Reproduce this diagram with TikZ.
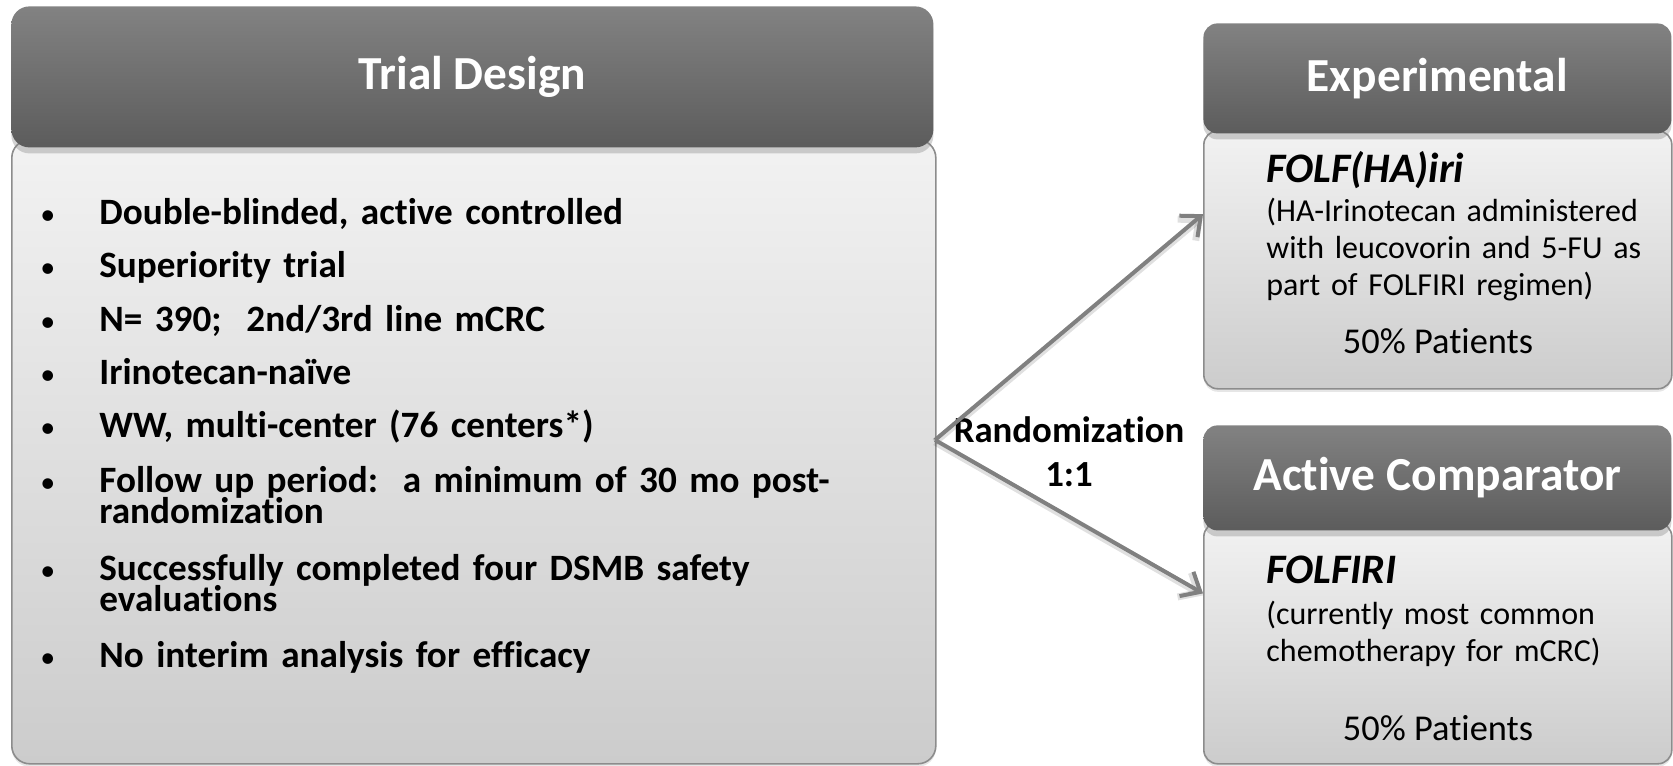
\documentclass[tikz,border=0pt]{standalone}
\usepackage{fontspec}
\setmainfont{Carlito}[Ligatures=NoCommon]
\usepackage{tikz}
\usetikzlibrary{arrows.meta,positioning,shadows}

\definecolor{headtop}{RGB}{130,130,130}
\definecolor{headbot}{RGB}{92,92,92}
\definecolor{bodytop}{RGB}{242,242,242}
\definecolor{bodybot}{RGB}{204,204,204}
\definecolor{rimgray}{RGB}{140,140,140}
\definecolor{armgray}{RGB}{128,128,128}

\newcommand\pointfont{\fontsize{18.6}{15.75}\selectfont\bfseries\lineskiplimit=-20pt\relax}
\newcommand\itemdot{\llap{{\mdseries\fontsize{15}{15}\selectfont\textbullet}\hspace{22pt}}}

\begin{document}
\begin{tikzpicture}[
  x=0.5pt, y=-0.5pt,
  panel/.style   = {draw=rimgray, line width=0.8pt, rounded corners=9pt,
                    top color=bodytop, bottom color=bodybot,
                    anchor=north west, inner sep=0pt,
                    drop shadow={shadow xshift=0pt, shadow yshift=-1.5pt,
                                 opacity=0.2}},
  banner/.style  = {rounded corners=9pt, top color=headtop, bottom color=headbot,
                    text=white, font=\fontsize{23.7}{28}\selectfont\bfseries,
                    anchor=north west, inner sep=0pt,
                    drop shadow={shadow xshift=0pt, shadow yshift=-3pt,
                                 opacity=0.35}},
  point/.style   = {anchor=base west, inner sep=0pt, text width=420pt,
                    align=left, font=\pointfont},
  regimen/.style = {anchor=base west, inner sep=0pt,
                    font=\fontsize{21}{25}\selectfont\bfseries\itshape},
  note/.style    = {anchor=base west, inner sep=0pt, text width=230pt,
                    align=left, font=\fontsize{16}{18.5}\selectfont},
  share/.style   = {anchor=base, inner sep=0pt, font=\fontsize{18.2}{22}\selectfont},
  tag/.style     = {anchor=base, inner sep=0pt, text width=130pt, align=center,
                    font=\fontsize{18.4}{22}\selectfont\bfseries},
  arm/.style     = {-{Straight Barb[length=8pt,width=14pt]}, line width=2pt,
                    armgray,
                    preaction={draw, black, opacity=0.12, line width=3.5pt,
                               transform canvas={yshift=-1pt}}}
]
  \useasboundingbox (0,0) rectangle (1673,765);

  % Left: trial design panel
  \node[panel, minimum width=462pt, minimum height=312pt] (design) at (11,139) {};
  \node[banner, minimum width=461pt, minimum height=70.5pt] (designhead) at (11,6)
       {Trial Design};

  \node[point] (b1) at (99,224) {\itemdot Double-blinded, active controlled};
  \node[point] (b2) at (99,277) {\itemdot Superiority trial};
  \node[point] (b3) at (99,331) {\itemdot N= 390;\ \ 2nd/3rd line mCRC};
  \node[point] (b4) at (99,384) {\itemdot Irinotecan-naïve};
  \node[point] (b5) at (99,437) {\itemdot WW, multi-center (76 centers*)};
  \node[point] (b6) at (99,492) {\itemdot Follow up period:\ \ a minimum of 30 mo post-\\randomization};
  \node[point] (b7) at (99,580) {\itemdot Successfully completed four DSMB safety\\evaluations};
  \node[point] (b8) at (99,667) {\itemdot No interim analysis for efficacy};

  % Right: the two arms
  \node[panel, rounded corners=7pt, minimum width=234pt, minimum height=129pt]
       (exp) at (1203,130) {};
  \node[banner, rounded corners=7pt, minimum width=234pt, minimum height=55pt]
       (exphead) at (1203,23) {Experimental};
  \node[panel, rounded corners=7pt, minimum width=234pt, minimum height=120.5pt]
       (comp) at (1203,522) {};
  \node[banner, rounded corners=7pt, minimum width=234pt, minimum height=52.5pt]
       (comphead) at (1203,425) {Active Comparator};

  \node[regimen] (expdrug) at (1266,182) {FOLF(HA)iri};
  \node[note]    (expnote) at (1266,221)
       {(HA-Irinotecan administered\\with leucovorin and 5-FU as\\part of FOLFIRI regimen)};
  \node[share]   (expshare) at (1438,353) {50\% Patients};

  \node[regimen] (compdrug) at (1266,583) {FOLFIRI};
  \node[note]    (compnote) at (1266,624)
       {(currently most common\\chemotherapy for mCRC)};
  \node[share]   (compshare) at (1438,740) {50\% Patients};

  % Randomization split
  \coordinate (split) at (935,440);
  \node[tag] (rand) at (1069,442) {Randomization\\1:1};

  \draw[arm] (split) -- (exp.169);
  \draw[arm] (split) -- (comp.168);
\end{tikzpicture}
\end{document}
